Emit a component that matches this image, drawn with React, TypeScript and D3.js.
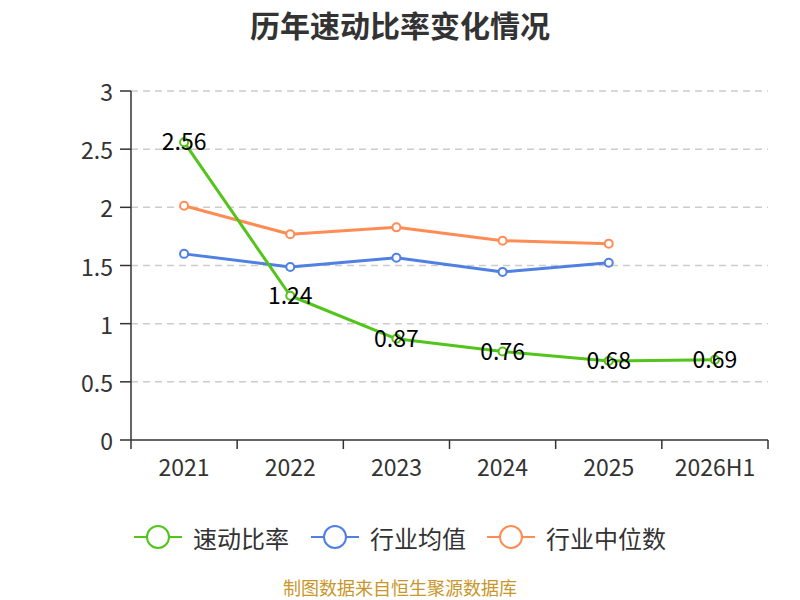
import * as d3 from "d3";

const categories = ["2021", "2022", "2023", "2024", "2025", "2026H1"];
const quickRatio = [2.56, 1.24, 0.87, 0.76, 0.68, 0.69];
const industryAvg = [1.6, 1.487, 1.566, 1.445, 1.524];
const industryMedian = [2.013, 1.768, 1.828, 1.713, 1.688];
const yTicks = [0, 0.5, 1, 1.5, 2, 2.5, 3];
const legendNames = ["速动比率", "行业均值", "行业中位数"];

const colors = ["#52c41a", "#4f80e2", "#ff8c55"];
const font = "'Noto Sans CJK SC', 'Noto Sans', sans-serif";

const width = 800;
const height = 600;
const margin = { top: 91, right: 32, bottom: 160, left: 131 };

export default function App() {
  const x = d3
    .scaleBand()
    .domain(categories)
    .range([margin.left, width - margin.right]);
  const y = d3
    .scaleLinear()
    .domain([0, 3])
    .range([height - margin.bottom, margin.top]);

  const cx = (i: number) => (x(categories[i]) || 0) + x.bandwidth() / 2;
  const line = d3
    .line<number>()
    .x((_, i) => cx(i))
    .y((d) => y(d));

  const series = [quickRatio, industryAvg, industryMedian];
  const legendX = [134, 311, 487];

  return (
    <svg
      width={width}
      height={height}
      style={{ position: "absolute", left: 0, top: 0, fontFamily: font }}
    >
      <rect width={width} height={height} fill="#fff" />
      <text
        x={400}
        y={24}
        textAnchor="middle"
        dominantBaseline="central"
        fontSize={30}
        fontWeight="bold"
        fill="#333"
      >
        历年速动比率变化情况
      </text>

      {yTicks.map((t) => (
        <g key={t}>
          {t > 0 && (
            <line
              x1={margin.left}
              x2={width - margin.right}
              y1={y(t)}
              y2={y(t)}
              stroke="#ccc"
              strokeWidth={1.5}
              strokeDasharray="7,5"
            />
          )}
          <line
            x1={margin.left - 11}
            x2={margin.left}
            y1={y(t)}
            y2={y(t)}
            stroke="#333"
            strokeWidth={1.5}
          />
          <text
            x={margin.left - 18}
            y={y(t)}
            textAnchor="end"
            dominantBaseline="central"
            fontSize={23}
            fill="#333"
          >
            {t}
          </text>
        </g>
      ))}
      <line
        x1={margin.left}
        x2={margin.left}
        y1={margin.top}
        y2={y(0)}
        stroke="#333"
        strokeWidth={1.5}
      />
      <line
        x1={margin.left}
        x2={width - margin.right}
        y1={y(0)}
        y2={y(0)}
        stroke="#333"
        strokeWidth={1.5}
      />
      {categories.map((c, i) => (
        <g key={c}>
          <line
            x1={x(c)}
            x2={x(c)}
            y1={y(0)}
            y2={y(0) + 9}
            stroke="#333"
            strokeWidth={1.5}
          />
          <text
            x={cx(i)}
            y={y(0) + 26}
            textAnchor="middle"
            dominantBaseline="central"
            fontSize={23}
            fill="#333"
          >
            {c}
          </text>
        </g>
      ))}
      <line
        x1={width - margin.right}
        x2={width - margin.right}
        y1={y(0)}
        y2={y(0) + 9}
        stroke="#333"
        strokeWidth={1.5}
      />

      {series
        .map((s, k) => ({ s, k }))
        .reverse()
        .map(({ s, k }) => (
          <g key={k}>
            <path
              d={line(s) || ""}
              fill="none"
              stroke={colors[k]}
              strokeWidth={3}
              strokeLinejoin="round"
            />
            {s.map((v, i) => (
              <circle
                key={i}
                cx={cx(i)}
                cy={y(v)}
                r={4}
                fill="#fff"
                stroke={colors[k]}
                strokeWidth={2}
              />
            ))}
          </g>
        ))}

      {quickRatio.map((v, i) => (
        <text
          key={i}
          x={cx(i)}
          y={y(v) - 2}
          textAnchor="middle"
          dominantBaseline="central"
          fontSize={23}
          fill="#000"
        >
          {v.toFixed(2)}
        </text>
      ))}

      {legendNames.map((n, k) => (
        <g key={n} transform={`translate(${legendX[k]},537)`}>
          <line x1={0} x2={48} y1={0} y2={0} stroke={colors[k]} strokeWidth={2} />
          <circle cx={24} cy={0} r={11} fill="#fff" stroke={colors[k]} strokeWidth={2} />
          <text
            x={59}
            y={0}
            dominantBaseline="central"
            fontSize={24}
            fill="#333"
          >
            {n}
          </text>
        </g>
      ))}

      <text
        x={400}
        y={587}
        textAnchor="middle"
        dominantBaseline="central"
        fontSize={18}
        fill="#c8962a"
      >
        制图数据来自恒生聚源数据库
      </text>
    </svg>
  );
}
